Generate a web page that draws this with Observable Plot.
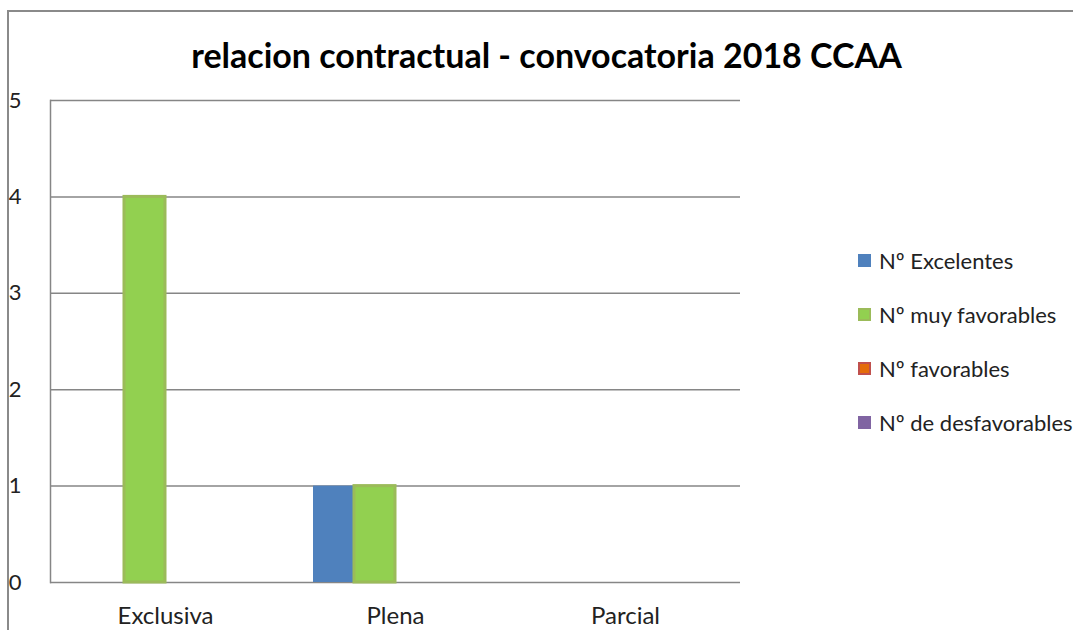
<!DOCTYPE html>
<html>
<head>
<meta charset="utf-8">
<script src="https://cdn.jsdelivr.net/npm/d3@7"></script>
<script src="https://cdn.jsdelivr.net/npm/@observablehq/plot@0.6"></script>
<style>
  html, body { margin: 0; padding: 0; background: #fff; }
  #wrap { position: relative; width: 1073px; height: 630px; overflow: hidden; font-family: Lato, "Open Sans", sans-serif; }
  #border { position: absolute; left: 7px; top: 10px; width: 2000px; height: 2000px; border-top: 2px solid #8a8a8a; border-left: 2px solid #8a8a8a; }
  #title { position: absolute; left: 0; width: 1093px; top: 34px; text-align: center; font-weight: bold; font-size: 34px; color: #000; }
  #chart { position: absolute; left: 0; top: 0; }
  #legend { position: absolute; left: 858px; top: 247px; }
  .item { position: absolute; left: 0; white-space: nowrap; font-size: 22px; color: #222; display: flex; align-items: center; }
  .sw { width: 9px; height: 9px; margin-right: 8px; border: 2px solid; }
</style>
</head>
<body>
<div id="wrap">
  <div id="border"></div>
  <div id="chart"></div>
  <div id="title">relacion contractual - convocatoria 2018 CCAA</div>
  <div id="legend"></div>
</div>
<script>
const categories = ["Exclusiva", "Plena", "Parcial"];
const series = ["Nº Excelentes", "Nº muy favorables", "Nº favorables", "Nº de desfavorables"];
const excelentes = [0, 1, 0];
const muyFavorables = [4, 1, 0];
const favorables = [0, 0, 0];
const desfavorables = [0, 0, 0];
const fillColors = ["#4F81BD", "#92D050", "#E46C0A", "#8064A2"];
const strokeColors = ["#4F81BD", "#9BBB59", "#C0504D", "#8064A2"];
const yTicks = [0, 1, 2, 3, 4, 5];

const values = [excelentes, muyFavorables, favorables, desfavorables];
const data = [];
categories.forEach((c, i) => series.forEach((s, j) => data.push({category: c, series: s, value: values[j][i]})));

const plot = Plot.plot({
  width: 1073,
  height: 630,
  marginLeft: 49,
  marginRight: 333,
  marginTop: 100,
  marginBottom: 48,
  style: {fontFamily: "Lato, 'Open Sans', sans-serif", fontSize: "24px", color: "#222", background: "transparent", overflow: "visible"},
  fx: {domain: categories, padding: 0, label: null, axis: null},
  x: {domain: series, paddingInner: 0, paddingOuter: 0.75, axis: null},
  y: {domain: [0, 5], axis: null},
  color: {domain: series, range: fillColors},
  marks: [
    Plot.gridY({ticks: yTicks, stroke: "#868686", strokeOpacity: 1, strokeWidth: 1.5}),
    Plot.frame({anchor: "left", facetAnchor: "left", stroke: "#868686", strokeWidth: 1.5}),
    Plot.axisY({ticks: yTicks, tickFormat: d => String(d), tickSize: 0, tickPadding: 29, fontSize: 22, textAnchor: "end", label: null}),
    Plot.axisFx({anchor: "bottom", tickSize: 0, tickPadding: 24, fontSize: 24, label: null}),
    Plot.barY(data, {
      fx: "category", x: "series", y: "value",
      fill: "series",
      fillOpacity: d => d.value > 0 ? 1 : 0,
      stroke: d => strokeColors[series.indexOf(d.series)],
      strokeWidth: d => (d.value > 0 && d.series !== series[0]) ? 3 : 0
    })
  ]
});
document.getElementById("chart").appendChild(plot);

const legend = d3.select("#legend");
series.forEach((s, i) => {
  const item = legend.append("div").attr("class", "item").style("top", (i * 54) + "px");
  item.append("div").attr("class", "sw")
    .style("background", fillColors[i])
    .style("border-color", strokeColors[i]);
  item.append("span").text(s);
});
</script>
</body>
</html>
